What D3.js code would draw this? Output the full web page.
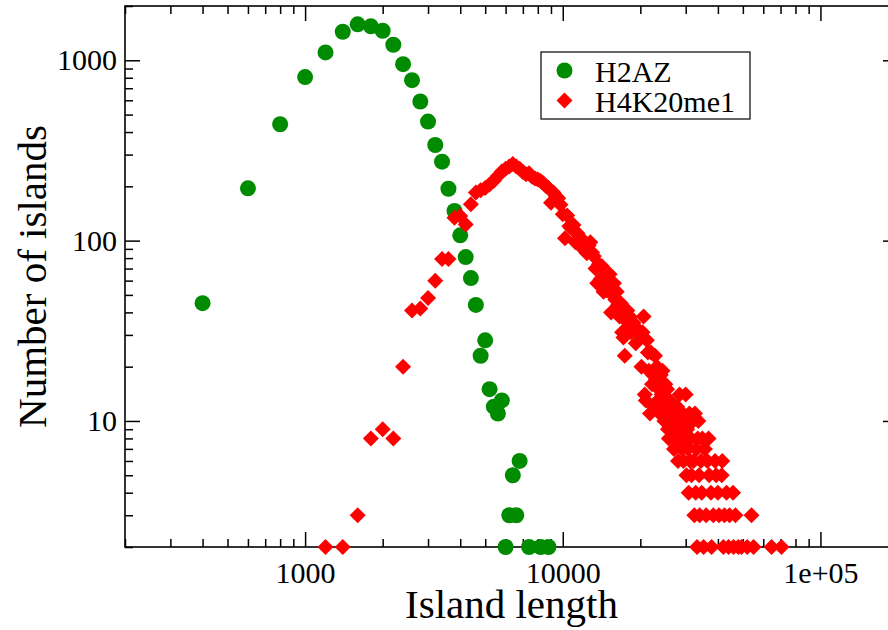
<!DOCTYPE html>
<html><head><meta charset="utf-8">
<script src="https://cdn.jsdelivr.net/npm/d3@7"></script>
<style>body{margin:0;background:#fff}svg{display:block}</style>
</head><body><svg id="c" width="888" height="630"></svg>
<script>
// ---------- data ----------
const xDomain = [200, 200000];
const yDomain = [2, 2000];
const xMajorTicks = [1000, 10000, 100000];
const xTickLabels = ["1000", "10000", "1e+05"];
const yMajorTicks = [10, 100, 1000];
const yTickLabels = ["10", "100", "1000"];
const xTitle = "Island length";
const yTitle = "Number of islands";
const seriesNames = ["H2AZ", "H4K20me1"];
const seriesColors = ["#008b00", "#ff0000"];

const h2azX = [400,600,800,1000,1200,1400,1600,1800,2000,2200,2400,2600,2800,3000,3200,3400,3600,3800,4000,4200,4400,4600,4800,5000,5200,5400,5600,5800,6000,6200,6400,6600,6800,7400,8200,8800];
const h2azY = [45,195,442,807,1106,1440,1583,1543,1458,1219,952,776,591,457,339,274,194,146,107,81,62,44,23,28,15,12,11,13,2,3,5,3,6,2,2,2];

const h4Rise = [[1200,2],[1400,2],[1600,3],[1800,8],[2000,9],[2200,8],[2400,20],[2600,41],[2800,42],[3000,48],[3200,60],[3400,79],[3600,79],[3800,134],[4000,137],[4200,123],[4400,159],[4600,185],[4800,190],[5000,196],[5200,205],[5400,215],[5600,228],[5800,242],[6000,250],[6200,258],[6400,266],[6600,258],[6800,250],[7000,240],[7200,233],[7400,236],[7600,226],[7800,221],[8000,218],[8200,214],[8400,208],[8600,201],[8800,196],[9000,162],[9200,185],[9400,177],[9600,172],[9800,158]];
const h4Mid = [[10000,140],[10200,103],[10400,138],[10600,120],[10800,117],[11000,122],[11200,98],[11400,110],[11600,105],[11800,92],[12000,100],[12200,89],[12400,85],[12600,94],[12800,98],[13000,86],[13200,82],[13400,70],[13600,58],[13800,74],[14000,61],[14200,72],[14400,52],[14600,56],[14800,53],[15000,60],[15200,65],[15400,40],[15600,50],[15800,58],[16000,47],[16200,52],[16400,44],[16600,38],[16800,45],[17000,31],[17200,29],[17400,23],[17600,36],[17800,41],[18000,33],[18200,38],[18400,31],[18800,35],[19200,27],[19600,32]];
const h4Tail = [[20000,30],[20200,20],[20400,31],[20600,38],[20800,14],[21000,13],[21200,28],[21400,24],[21600,19],[21800,11],[22000,24],[22200,16],[22400,18],[22600,12],[22800,23],[23000,17],[23200,20],[23400,13],[23600,15],[23800,11],[24000,18],[24200,14],[24400,19],[24600,12],[24800,10],[25000,16],[25200,13],[25400,15],[25600,9],[25800,8],[26000,13],[26200,10],[26400,11],[26600,12],[26800,9],[27000,7],[27200,10],[27400,11],[27600,8],[27800,12],[28000,6],[28200,10],[28400,14],[28600,8],[28800,9],[29000,7],[29200,11],[29400,6],[29600,10],[29800,8],[30000,14],[30200,5],[30400,9],[30600,7],[30800,4],[31000,11],[31200,6],[31400,8],[31600,5],[32000,10],[32200,6],[32400,3],[32600,11],[32800,4],[33000,7],[33200,2],[33400,8],[33600,10],[33800,5],[34000,3],[34400,6],[34600,4],[34800,8],[35200,2],[35600,7],[36000,3],[36400,6],[36800,8],[37000,5],[37600,4],[37800,2],[38400,3],[39000,6],[39400,5],[40000,4],[40400,3],[41400,5],[41600,6],[42000,2],[42400,3],[43200,4],[44000,2],[44400,3],[45800,4],[46000,2],[46800,3],[48000,2],[49400,2],[52000,2],[54000,3],[55000,2],[64600,2],[70600,2]];

// ---------- chart ----------
const svg = d3.select("#c");
const L = 125, R = 898, T = 6, B = 547;
const font = "'Liberation Serif','Times New Roman',serif";
const x = d3.scaleLog().domain(xDomain).range([L, R]);
const y = d3.scaleLog().domain(yDomain).range([B, T]);

const isMajor = (arr, v) => arr.some(m => Math.abs(m - v) / m < 1e-9);
const xMinor = x.ticks().filter(v => !isMajor(xMajorTicks, v));
const yMinor = y.ticks().filter(v => !isMajor(yMajorTicks, v));

function styleAxis(g) {
  g.select(".domain").remove();
  g.selectAll(".tick line").attr("stroke", "#000").attr("stroke-width", 1.5);
  g.selectAll("text").attr("font-family", font).attr("font-size", 30).attr("fill", "#000");
}

// bottom
svg.append("g").attr("transform", `translate(0,${B})`)
  .call(d3.axisBottom(x).tickValues(xMajorTicks).tickSize(-15).tickSizeOuter(0).tickPadding(15)
        .tickFormat((d, i) => xTickLabels[i])).call(styleAxis);
svg.append("g").attr("transform", `translate(0,${B})`)
  .call(d3.axisBottom(x).tickValues(xMinor).tickSize(-8).tickSizeOuter(0).tickFormat("")).call(styleAxis);
// top
svg.append("g").attr("transform", `translate(0,${T})`)
  .call(d3.axisTop(x).tickValues(xMajorTicks).tickSize(-15).tickSizeOuter(0).tickFormat("")).call(styleAxis);
svg.append("g").attr("transform", `translate(0,${T})`)
  .call(d3.axisTop(x).tickValues(xMinor).tickSize(-8).tickSizeOuter(0).tickFormat("")).call(styleAxis);
// left
svg.append("g").attr("transform", `translate(${L},0)`)
  .call(d3.axisLeft(y).tickValues(yMajorTicks).tickSize(-15).tickSizeOuter(0).tickPadding(8)
        .tickFormat((d, i) => yTickLabels[i])).call(styleAxis);
svg.append("g").attr("transform", `translate(${L},0)`)
  .call(d3.axisLeft(y).tickValues(yMinor).tickSize(-8).tickSizeOuter(0).tickFormat("")).call(styleAxis);
// right
svg.append("g").attr("transform", `translate(${R},0)`)
  .call(d3.axisRight(y).tickValues(yMajorTicks).tickSize(-15).tickSizeOuter(0).tickFormat("")).call(styleAxis);
svg.append("g").attr("transform", `translate(${R},0)`)
  .call(d3.axisRight(y).tickValues(yMinor).tickSize(-8).tickSizeOuter(0).tickFormat("")).call(styleAxis);

// frame
svg.append("rect").attr("x", L).attr("y", T).attr("width", R - L).attr("height", B - T)
  .attr("fill", "none").attr("stroke", "#000").attr("stroke-width", 1.6);

// titles
svg.append("text").attr("x", (L + R) / 2).attr("y", 618).attr("text-anchor", "middle")
  .attr("font-family", font).attr("font-size", 41).text(xTitle);
svg.append("text").attr("transform", `translate(46,${(T + B) / 2}) rotate(-90)`).attr("text-anchor", "middle")
  .attr("font-family", font).attr("font-size", 41).text(yTitle);

// series
const h2az = h2azX.map((v, i) => [v, h2azY[i]]);
const h4 = h4Rise.concat(h4Mid, h4Tail);

svg.append("g").selectAll("circle").data(h2az).join("circle")
  .attr("cx", d => x(d[0])).attr("cy", d => y(d[1])).attr("r", 8).attr("fill", seriesColors[0]);

const diamond = d3.symbol().type(d3.symbolSquare).size(128);
svg.append("g").selectAll("path").data(h4).join("path")
  .attr("d", diamond).attr("fill", seriesColors[1])
  .attr("transform", d => `translate(${x(d[0])},${y(d[1])}) rotate(45)`);

// legend
const lg = svg.append("g");
lg.append("rect").attr("x", 541).attr("y", 52).attr("width", 209).attr("height", 67)
  .attr("fill", "#fff").attr("stroke", "#000").attr("stroke-width", 1.2);
lg.append("circle").attr("cx", 564.5).attr("cy", 70.5).attr("r", 8).attr("fill", seriesColors[0]);
lg.append("path").attr("d", diamond).attr("fill", seriesColors[1]).attr("transform", "translate(564.5,100.5) rotate(45)");
lg.selectAll("text").data(seriesNames).join("text")
  .attr("x", 595).attr("y", (d, i) => 81.5 + i * 30)
  .attr("font-family", font).attr("font-size", 30).text(d => d);
</script></body></html>
